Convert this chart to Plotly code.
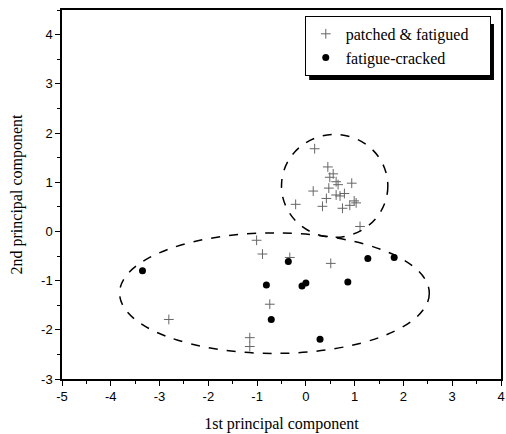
import plotly.graph_objects as go

# patched & fatigued (+)
pf_x = [0.18, 0.45, 0.56, 0.49, 0.62, 0.94, 0.47, 0.15, 0.79, 0.62, 0.42, 0.99, 1.03, 0.90,
        -0.21, 0.34, 0.75, 1.11, 0.66, 0.70,
        -1.01, -0.89, -0.33, -0.74, -2.81, -1.15, -1.15, 0.51]
pf_y = [1.68, 1.31, 1.17, 1.10, 1.01, 0.98, 0.88, 0.82, 0.77, 0.74, 0.67, 0.62, 0.58, 0.53,
        0.55, 0.51, 0.47, 0.10, 0.95, 0.72,
        -0.18, -0.46, -0.53, -1.48, -1.79, -2.16, -2.34, -0.65]

# fatigue-cracked (dots)
fc_x = [-3.35, -0.36, -0.81, -0.71, 1.27, 1.81, 0.00, -0.08, 0.86, 0.29]
fc_y = [-0.80, -0.61, -1.09, -1.79, -0.55, -0.53, -1.05, -1.11, -1.03, -2.19]

# grouping ellipses (x0, x1, y0, y1)
ellipses = [(-0.50, 1.68, -0.12, 1.97), (-3.82, 2.53, -2.48, -0.03)]

x_ticks = [-5, -4, -3, -2, -1, 0, 1, 2, 3, 4]
x_labels = ["-5", "-4", "-3", "-2", "-1", "0", "1", "2", "3", "4"]
y_ticks = [-3, -2, -1, 0, 1, 2, 3, 4]
y_labels = ["-3", "-2", "-1", "0", "1", "2", "3", "4"]

series_names = ["patched & fatigued", "fatigue-cracked"]
pad = "\u00a0" * 4

fig = go.Figure()
fig.add_trace(go.Scatter(x=pf_x, y=pf_y, mode="markers", name=series_names[0] + pad,
                         marker=dict(symbol="cross-thin", size=7, color="#666666",
                                     line=dict(width=1, color="#666666"))))
fig.add_trace(go.Scatter(x=fc_x, y=fc_y, mode="markers", name=series_names[1],
                         marker=dict(symbol="circle", size=7, color="black")))

for x0, x1, y0, y1 in ellipses:
    fig.add_shape(type="circle", xref="x", yref="y", x0=x0, x1=x1, y0=y0, y1=y1,
                  line=dict(color="black", width=1.5, dash="dash"))

# legend drop shadow
fig.add_shape(type="rect", xref="paper", yref="paper", x0=0.563, x1=0.984, y0=0.81, y1=0.962,
              fillcolor="black", line=dict(width=0), layer="above")

axis_common = dict(showgrid=False, zeroline=False, showline=True, linecolor="black", linewidth=1.5,
                   mirror=True, ticks="outside", ticklen=5, tickwidth=1.2, tickcolor="black",
                   automargin=False,
                   tickfont=dict(family="Liberation Sans, Arial", size=13, color="black"),
                   minor=dict(ticks="outside", ticklen=3, tickcolor="black", dtick=0.5))

fig.update_layout(
    width=506, height=434,
    margin=dict(l=62, r=5, t=10, b=55),
    paper_bgcolor="white", plot_bgcolor="white",
    xaxis=dict(range=[-5, 4], tickvals=x_ticks, ticktext=x_labels, **axis_common,
               title=dict(text="1st principal component", standoff=14,
                          font=dict(family="Liberation Serif, Times New Roman", size=16, color="black"))),
    yaxis=dict(range=[-3, 4.5], tickvals=y_ticks, ticktext=y_labels, **axis_common,
               title=dict(text="2nd principal component", standoff=14,
                          font=dict(family="Liberation Serif, Times New Roman", size=16, color="black"))),
    legend=dict(x=0.553, y=0.984, xanchor="left", yanchor="top", bgcolor="white",
                bordercolor="black", borderwidth=1,
                font=dict(family="Liberation Serif, Times New Roman", size=16, color="black"),
                tracegroupgap=0, itemwidth=30),
    showlegend=True,
)

fig.write_html("out.html", config={"displayModeBar": False},
               post_script="document.body.style.margin='0';")
